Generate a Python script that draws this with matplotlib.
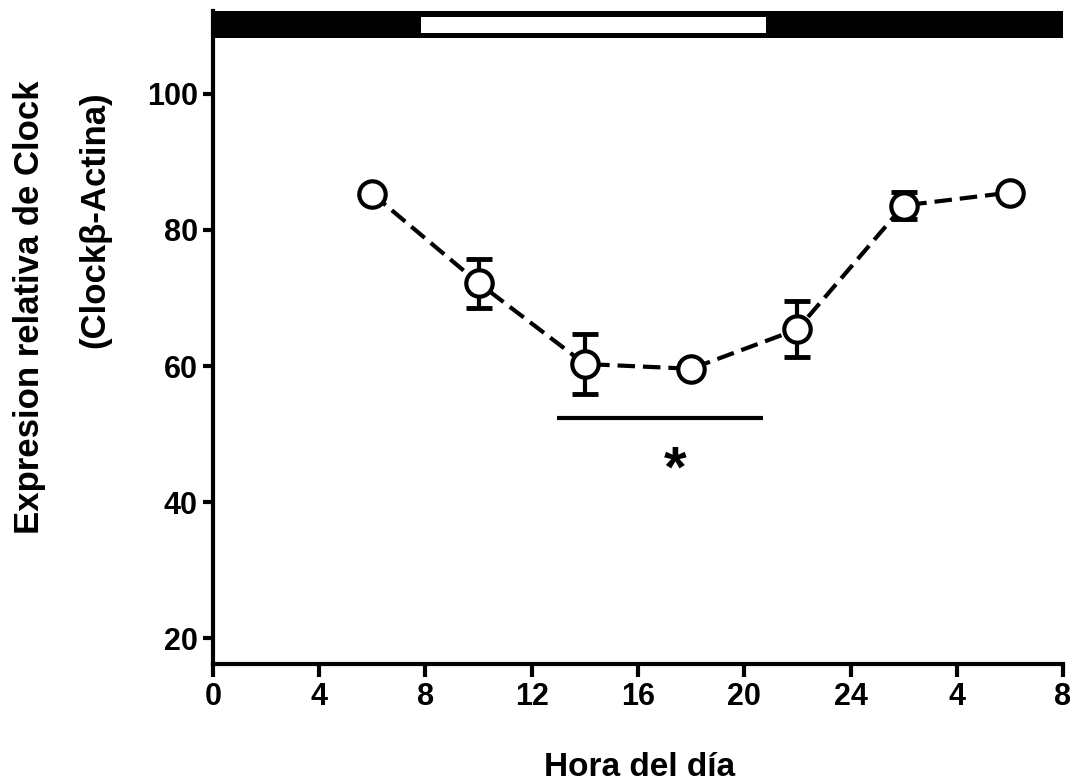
import numpy as np
import matplotlib.pyplot as plt
from matplotlib.patches import Rectangle

# Clock relative expression over the day
hours = [6, 10, 14, 18, 22, 26, 30]
expression = [85.3, 72.2, 60.3, 59.6, 65.4, 83.6, 85.5]
sem = [0.8, 3.6, 4.4, 0.8, 4.1, 2.0, 0.8]

xticks = [0, 4, 8, 12, 16, 20, 24, 28, 32]
xtick_labels = ["0", "4", "8", "12", "16", "20", "24", "4", "8"]
yticks = [20, 40, 60, 80, 100]

light_on, light_off = 7.83, 20.82
sig_span = (12.95, 20.71)

plt.rcParams["font.family"] = ["Liberation Sans", "DejaVu Sans"]
plt.rcParams["font.weight"] = "bold"

fig = plt.figure(figsize=(10.7, 7.83), dpi=100)
ax = fig.add_axes([0.199, 0.152, 0.7945, 0.834])

ax.set_xlim(0, 32)
ax.set_ylim(16.2, 112.2)

# data line
ax.errorbar(hours, expression, yerr=sem, fmt="none", ecolor="black",
            elinewidth=3, capsize=9.5, capthick=3.5, zorder=2)
ax.plot(hours, expression, color="black", lw=3, ls=(0, (4.2, 1.9)),
        marker="o", ms=19, mfc="white", mec="black", mew=3, zorder=3)

# significance bar
ax.plot(sig_span, [52.4, 52.4], color="black", lw=3, solid_capstyle="butt")
ax.text(17.4, 44.5, "*", fontsize=42, ha="center", va="center")

# light/dark bar at top
ax.add_patch(Rectangle((0, 108.2), 32, 4.0, facecolor="black",
                       edgecolor="none", clip_on=False, zorder=4))
ax.add_patch(Rectangle((light_on, 108.95), light_off - light_on, 2.4,
                       facecolor="white", edgecolor="none", clip_on=False, zorder=5))

# axes styling
for side in ["top", "right"]:
    ax.spines[side].set_visible(False)
for side in ["left", "bottom"]:
    ax.spines[side].set_linewidth(3)

ax.set_xticks(xticks)
ax.set_xticklabels(xtick_labels, fontsize=22, fontweight="bold")
ax.set_yticks(yticks)
ax.set_yticklabels([str(v) for v in yticks], fontsize=22, fontweight="bold")
ax.tick_params(axis="x", length=9, width=3, pad=4)
ax.tick_params(axis="y", length=7, width=3, pad=4)

# labels
fig.text(640 / 1070, 1 - 776 / 783, "Hora del día", fontsize=24,
         fontweight="bold", ha="center", va="baseline")
fig.text(30 / 1070, 1 - 307 / 783, "Expresion relativa de Clock", fontsize=25,
         fontweight="bold", ha="center", va="center", rotation=90)
fig.text(95 / 1070, 1 - 220 / 783, "(Clockβ-Actina)", fontsize=25,
         fontweight="bold", ha="center", va="center", rotation=90)

fig.savefig("out.png", dpi=100)
